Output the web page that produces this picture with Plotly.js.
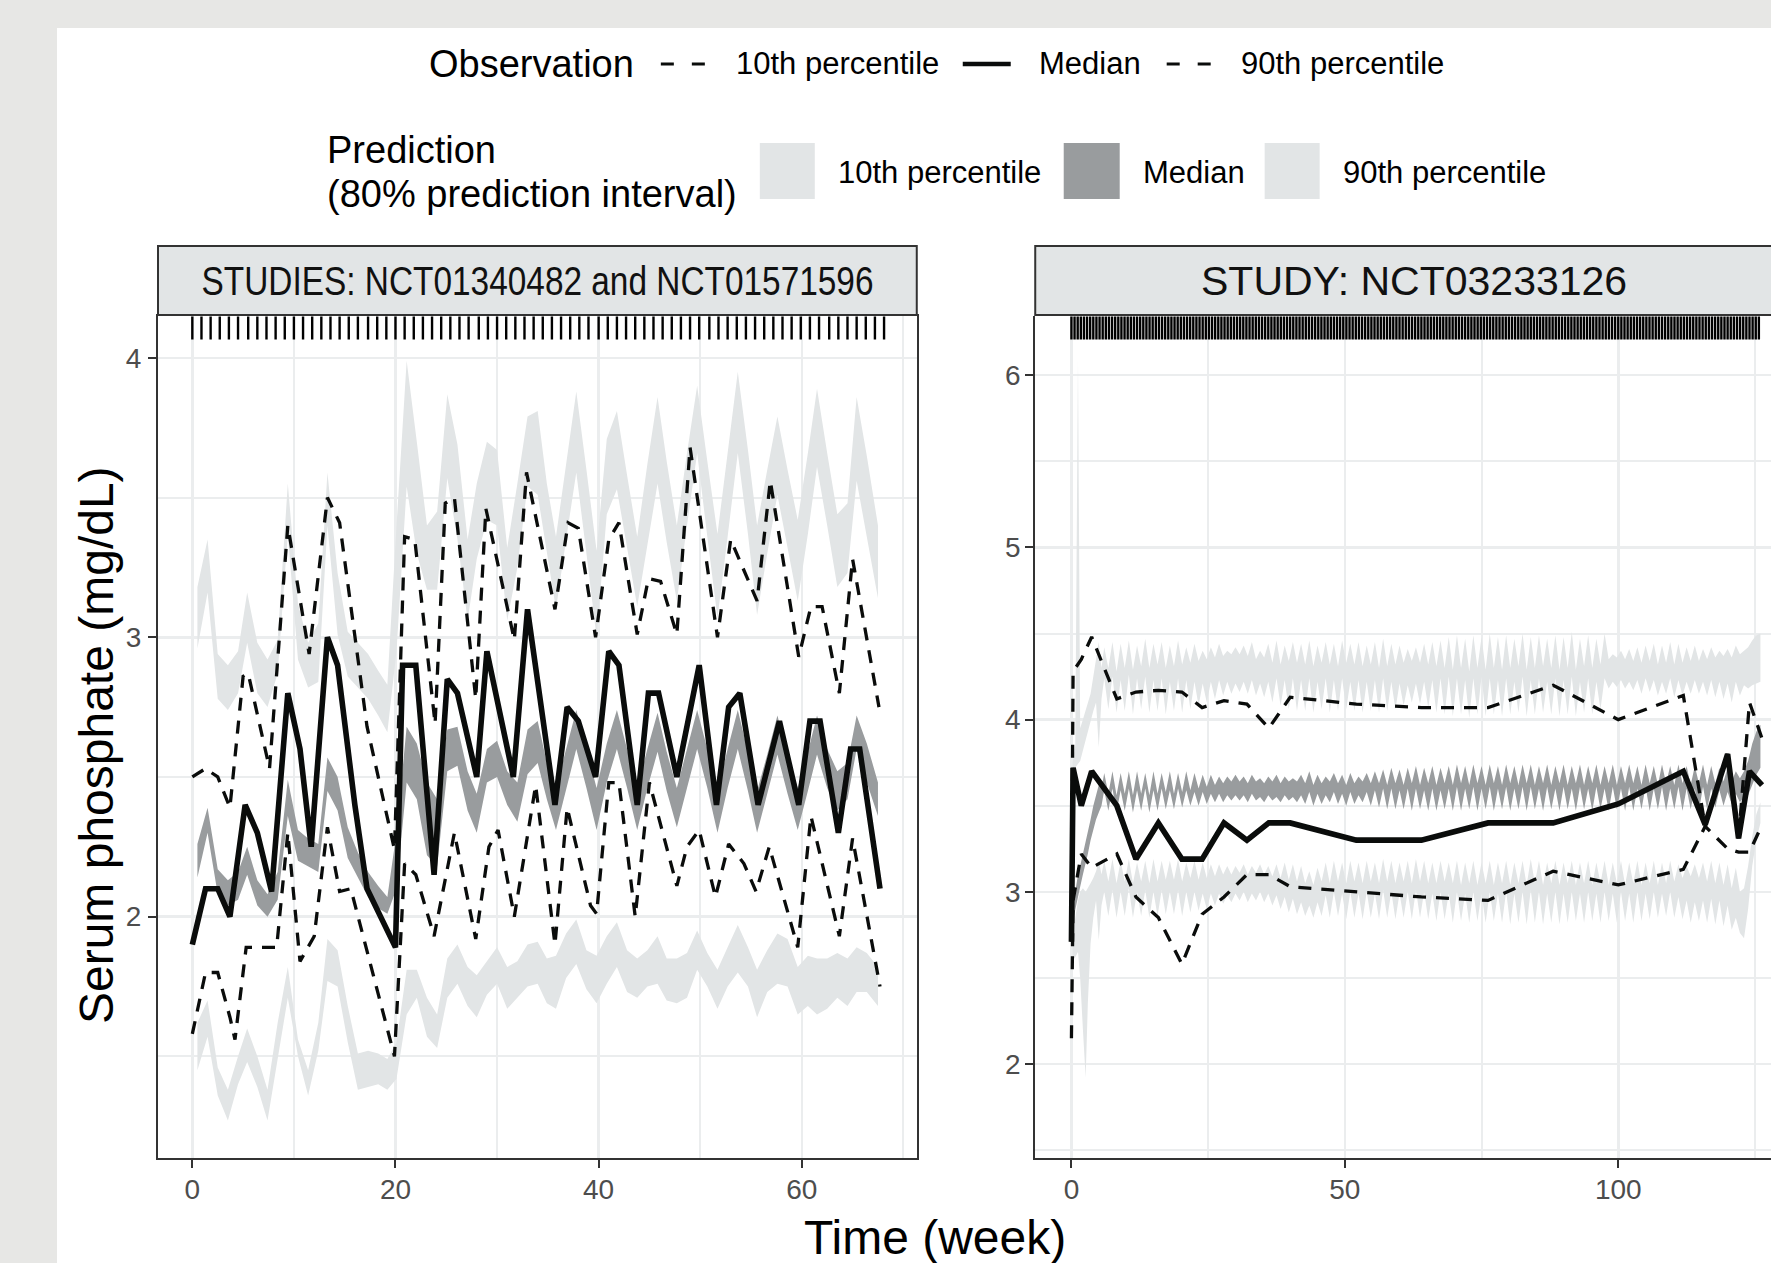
<!DOCTYPE html>
<html>
<head>
<meta charset="utf-8">
<script src="https://cdn.plot.ly/plotly-3.0.1.min.js"></script>
<style>
html,body{margin:0;padding:0;background:#e7e7e5;}
#wrap{position:absolute;left:0;top:0;width:1771px;height:1263px;overflow:hidden;}
#white{position:absolute;left:57px;top:28px;width:1714px;height:1235px;background:#ffffff;}
#plot{position:absolute;left:0;top:0;width:1800px;height:1263px;}
</style>
</head>
<body>
<div id="wrap"><div id="white"></div><div id="plot"></div></div>
<script>
// ---------------- LEFT PANEL: STUDIES NCT01340482 and NCT01571596 ----------------
const obsMedT_L = [0,1.3,2.5,3.7,5.2,6.4,7.8,9.4,10.6,11.7,13.3,14.3,16.0,17.2,20.0,20.7,22.0,23.8,25.1,26.1,28.0,29.0,31.6,33.0,35.7,36.9,38.0,39.7,41.0,42.0,43.8,44.9,45.9,47.7,49.9,51.6,52.8,53.9,55.7,57.8,59.7,60.8,61.8,63.6,64.8,65.7,67.7];
const obsMed_L  = [1.90,2.10,2.10,2.00,2.40,2.30,2.09,2.80,2.60,2.25,3.00,2.90,2.40,2.10,1.89,2.90,2.90,2.15,2.85,2.80,2.50,2.95,2.50,3.10,2.40,2.75,2.70,2.50,2.95,2.90,2.40,2.80,2.80,2.50,2.90,2.40,2.75,2.80,2.40,2.70,2.40,2.70,2.70,2.30,2.60,2.60,2.10];
const obsP90T_L = [0,1.3,2.5,3.7,5.0,5.5,7.6,9.4,11.5,13.3,14.5,16.0,17.2,19.9,20.9,21.9,23.9,24.9,25.8,27.9,28.9,31.7,32.9,35.7,37.0,38.0,39.7,41.0,42.0,43.8,44.9,46.1,47.7,49.0,51.7,53.0,55.6,56.9,59.7,60.9,62.0,63.7,65.0,67.6];
const obsP90_L  = [2.50,2.53,2.50,2.39,2.86,2.87,2.53,3.40,2.94,3.50,3.41,3.00,2.68,2.24,3.36,3.35,2.69,3.48,3.50,2.78,3.46,2.99,3.59,3.10,3.41,3.39,3.00,3.35,3.41,3.01,3.21,3.20,3.01,3.68,3.00,3.35,3.13,3.56,2.93,3.11,3.11,2.80,3.28,2.75];
const obsP10T_L = [0,1.3,2.5,3.7,4.2,5.3,8.3,9.4,10.6,12.0,13.3,14.5,15.6,19.9,20.9,22.0,23.8,25.8,27.9,29.2,30.1,31.7,33.8,35.7,36.9,39.2,39.8,41.0,42.0,43.6,45.0,47.7,48.7,49.9,51.5,52.8,54.3,55.5,56.8,59.6,60.9,63.7,65.0,67.7];
const obsP10_L  = [1.58,1.80,1.80,1.64,1.56,1.89,1.89,2.30,1.84,1.93,2.32,2.09,2.10,1.50,2.19,2.15,1.93,2.30,1.92,2.25,2.31,2.00,2.47,1.90,2.39,2.04,2.01,2.48,2.48,2.00,2.48,2.11,2.25,2.31,2.07,2.26,2.19,2.09,2.25,1.89,2.36,1.93,2.28,1.75];

const predT_L = [0.5,1.5,2.5,3.5,4.5,5.4,6.4,7.4,8.4,9.4,10.4,11.4,12.4,13.3,14.3,15.3,16.3,17.3,18.3,19.2,20.1,21.1,22.1,23.1,24.1,25.1,26.1,27.1,28.0,29.0,30.0,31.0,32.0,33.0,34.0,34.9,35.8,36.8,37.8,38.8,39.8,40.8,41.8,42.8,43.8,44.8,45.8,46.7,47.7,48.7,49.7,50.7,51.7,52.7,53.7,54.7,55.6,56.6,57.6,58.6,59.6,60.6,61.5,62.5,63.5,64.5,65.4,66.4,67.5];
const pred90Hi_L = [3.18,3.35,2.94,2.90,2.95,3.16,2.98,2.92,2.99,3.55,3.12,2.98,3.05,3.59,3.23,3.02,2.98,2.94,2.88,2.83,3.40,3.99,3.70,3.40,3.45,3.87,3.69,3.35,3.55,3.70,3.67,3.32,3.55,3.79,3.81,3.55,3.36,3.62,3.88,3.60,3.31,3.71,3.81,3.58,3.36,3.62,3.86,3.63,3.40,3.66,3.90,3.63,3.37,3.66,3.95,3.67,3.40,3.60,3.79,3.60,3.42,3.66,3.89,3.66,3.44,3.48,3.86,3.65,3.40];
const pred90Lo_L = [2.96,3.16,2.78,2.74,2.80,2.98,2.80,2.75,2.87,3.37,2.92,2.82,2.84,3.40,3.01,2.86,2.82,2.78,2.72,2.66,2.95,3.54,3.30,3.17,3.17,3.57,3.35,3.06,3.28,3.42,3.40,3.06,3.25,3.54,3.51,3.30,3.10,3.35,3.59,3.30,3.00,3.44,3.53,3.32,3.11,3.33,3.55,3.34,3.13,3.40,3.66,3.36,3.07,3.36,3.66,3.37,3.08,3.30,3.51,3.32,3.13,3.37,3.61,3.40,3.18,3.23,3.56,3.36,3.14];
const predMedHi_L = [2.26,2.39,2.17,2.13,2.16,2.25,2.13,2.08,2.16,2.49,2.31,2.28,2.26,2.57,2.50,2.32,2.23,2.16,2.11,2.07,2.30,2.68,2.62,2.48,2.42,2.67,2.68,2.52,2.44,2.60,2.63,2.52,2.48,2.67,2.70,2.55,2.46,2.60,2.74,2.60,2.46,2.62,2.74,2.60,2.46,2.60,2.73,2.59,2.46,2.60,2.74,2.60,2.45,2.60,2.74,2.59,2.45,2.58,2.72,2.58,2.46,2.59,2.72,2.60,2.52,2.55,2.72,2.62,2.48];
const predMedLo_L = [2.14,2.30,2.08,2.04,2.06,2.15,2.04,2.00,2.06,2.36,2.20,2.18,2.16,2.45,2.38,2.21,2.14,2.07,2.03,2.01,2.10,2.48,2.42,2.22,2.18,2.52,2.54,2.38,2.30,2.48,2.50,2.40,2.34,2.51,2.55,2.42,2.31,2.46,2.60,2.46,2.31,2.48,2.60,2.46,2.31,2.46,2.59,2.45,2.32,2.46,2.60,2.46,2.30,2.46,2.60,2.45,2.30,2.44,2.58,2.44,2.31,2.45,2.58,2.46,2.38,2.42,2.60,2.48,2.36];
const pred10Hi_L = [1.62,1.70,1.46,1.38,1.50,1.60,1.50,1.38,1.62,1.82,1.56,1.45,1.62,1.92,1.88,1.68,1.51,1.52,1.51,1.49,1.55,1.81,1.81,1.71,1.65,1.85,1.90,1.82,1.79,1.84,1.89,1.82,1.84,1.90,1.91,1.85,1.86,1.94,1.99,1.88,1.86,1.93,1.98,1.88,1.85,1.88,1.93,1.85,1.85,1.87,1.95,1.87,1.81,1.89,1.97,1.89,1.81,1.88,1.94,1.92,1.82,1.86,1.85,1.85,1.87,1.85,1.89,1.87,1.82];
const pred10Lo_L = [1.45,1.57,1.36,1.27,1.40,1.48,1.39,1.27,1.49,1.71,1.50,1.36,1.52,1.77,1.75,1.55,1.38,1.39,1.40,1.38,1.42,1.65,1.71,1.57,1.53,1.71,1.76,1.68,1.64,1.72,1.76,1.67,1.71,1.75,1.76,1.69,1.67,1.78,1.83,1.74,1.69,1.76,1.82,1.73,1.71,1.75,1.76,1.70,1.69,1.71,1.81,1.75,1.67,1.75,1.80,1.75,1.64,1.73,1.76,1.75,1.65,1.68,1.65,1.67,1.71,1.68,1.73,1.73,1.68];

const rugT_L = [0,0.9,1.8,2.7,3.6,4.5,5.5,6.4,7.3,8.2,9.1,10.0,10.9,11.8,12.7,13.6,14.5,15.4,16.3,17.3,18.2,19.1,20.0,20.9,21.8,22.7,23.6,24.5,25.4,26.3,27.2,28.2,29.1,30.0,30.9,31.8,32.7,33.6,34.5,35.4,36.3,37.2,38.1,39.0,40.0,40.9,41.8,42.7,43.6,44.5,45.4,46.3,47.2,48.1,49.0,49.9,50.9,51.8,52.7,53.6,54.5,55.4,56.3,57.2,58.1,59.0,59.9,60.8,61.7,62.7,63.6,64.5,65.4,66.3,67.2,68.1];

// ---------------- RIGHT PANEL: STUDY NCT03233126 ----------------
const obsT_R   = [0,0.3,1.8,3.7,8.3,11.8,15.9,20.2,23.9,27.9,32.1,36.1,40.0,52.1,64.0,76.2,88.1,100.0,111.9,115.9,120.0,122.0,124.0,126.3];
const obsMed_R = [2.71,3.72,3.50,3.70,3.50,3.19,3.40,3.19,3.19,3.40,3.30,3.40,3.40,3.30,3.30,3.40,3.40,3.51,3.70,3.39,3.80,3.31,3.70,3.62];
const obsP90_R = [2.71,4.28,4.35,4.48,4.12,4.16,4.17,4.16,4.07,4.11,4.09,3.95,4.13,4.09,4.07,4.07,4.20,4.00,4.14,3.38,3.80,3.31,4.10,3.89];
const obsP10_R = [2.15,2.95,3.22,3.14,3.22,2.97,2.85,2.58,2.87,2.97,3.10,3.10,3.03,3.00,2.97,2.95,3.12,3.04,3.13,3.38,3.25,3.23,3.23,3.39];

const predT_R = [0.2,0.7,1.2,1.6,2.1,2.6,3.0,3.5,4.0,4.5,5.0,5.5,
6,6.75,7.5,8.25,9,9.75,10.5,11.25,12,12.75,13.5,14.25,15,15.75,16.5,17.25,
18,18.75,19.5,20.25,21,21.75,22.5,23.25,24,24.75,25.5,26.25,27,27.75,28.5,29.25,
30,30.75,31.5,32.25,33,33.75,34.5,35.25,36,36.75,37.5,38.25,39,39.75,40.5,41.25,
42,42.75,43.5,44.25,45,45.75,46.5,47.25,48,48.75,49.5,50.25,51,51.75,52.5,53.25,
54,54.75,55.5,56.25,57,57.75,58.5,59.25,60,60.75,61.5,62.25,63,63.75,64.5,65.25,
66,66.75,67.5,68.25,69,69.75,70.5,71.25,72,72.75,73.5,74.25,75,75.75,76.5,77.25,
78,78.75,79.5,80.25,81,81.75,82.5,83.25,84,84.75,85.5,86.25,87,87.75,88.5,89.25,
90,90.75,91.5,92.25,93,93.75,94.5,95.25,96,96.75,97.5,98.25,99,99.75,100.5,101.25,
102,102.75,103.5,104.25,105,105.75,106.5,107.25,108,108.75,109.5,110.25,111,111.75,112.5,113.25,
114,114.75,115.5,116.25,117,117.75,118.5,119.25,120,120.75,121.5,122.25,123,123.75,124.5,125.25,
126];
const pred90Hi_R = [3.75,3.85,6.10,3.95,4.00,4.05,4.10,4.15,4.25,4.35,4.45,4.30,
4.42,4.30,4.45,4.28,4.44,4.30,4.46,4.29,4.43,4.31,4.47,4.30,4.44,4.32,4.45,4.30,
4.43,4.31,4.46,4.32,4.42,4.33,4.44,4.34,4.40,4.35,4.42,4.36,4.44,4.37,4.40,4.38,
4.42,4.38,4.43,4.37,4.45,4.35,4.40,4.36,4.44,4.33,4.46,4.32,4.43,4.34,4.45,4.33,
4.44,4.32,4.46,4.31,4.43,4.33,4.45,4.32,4.44,4.31,4.46,4.33,4.44,4.32,4.45,4.31,
4.43,4.32,4.45,4.30,4.47,4.31,4.44,4.32,4.43,4.33,4.41,4.34,4.42,4.33,4.44,4.32,
4.45,4.31,4.46,4.30,4.48,4.29,4.49,4.30,4.47,4.28,4.49,4.30,4.48,4.29,4.50,4.30,
4.48,4.29,4.49,4.30,4.47,4.31,4.50,4.29,4.48,4.30,4.49,4.31,4.47,4.30,4.49,4.29,
4.48,4.30,4.51,4.29,4.47,4.31,4.49,4.30,4.47,4.32,4.50,4.35,4.38,4.36,4.40,4.35,
4.41,4.34,4.42,4.33,4.43,4.34,4.44,4.32,4.43,4.33,4.45,4.32,4.44,4.33,4.42,4.34,
4.43,4.34,4.41,4.35,4.42,4.36,4.40,4.37,4.41,4.36,4.43,4.38,4.40,4.42,4.46,4.49,
4.50];
const pred90Lo_R = [3.70,3.72,3.74,3.76,3.82,3.88,3.94,4.00,4.05,4.10,3.84,4.12,
4.24,4.06,4.25,4.04,4.23,4.05,4.26,4.03,4.24,4.06,4.25,4.04,4.23,4.05,4.24,4.03,
4.22,4.05,4.24,4.04,4.23,4.06,4.22,4.08,4.21,4.10,4.22,4.12,4.23,4.14,4.22,4.15,
4.21,4.16,4.22,4.15,4.23,4.14,4.21,4.13,4.22,4.10,4.24,4.08,4.23,4.06,4.24,4.05,
4.23,4.05,4.24,4.04,4.22,4.06,4.24,4.04,4.23,4.05,4.24,4.06,4.22,4.05,4.23,4.04,
4.22,4.05,4.23,4.04,4.24,4.05,4.22,4.06,4.21,4.08,4.20,4.10,4.21,4.09,4.22,4.07,
4.23,4.04,4.24,4.03,4.25,4.02,4.24,4.03,4.23,4.01,4.24,4.03,4.25,4.02,4.24,4.03,
4.23,4.02,4.24,4.03,4.22,4.04,4.25,4.02,4.23,4.03,4.24,4.04,4.22,4.03,4.24,4.02,
4.23,4.03,4.25,4.02,4.22,4.04,4.24,4.03,4.22,4.06,4.24,4.18,4.22,4.19,4.23,4.18,
4.22,4.17,4.23,4.15,4.24,4.16,4.23,4.14,4.22,4.15,4.24,4.13,4.23,4.14,4.22,4.15,
4.23,4.15,4.22,4.14,4.23,4.13,4.22,4.12,4.21,4.10,4.22,4.14,4.20,4.18,4.20,4.21,
4.22];
const predMedHi_R = [2.90,3.00,3.10,3.15,3.22,3.28,3.35,3.42,3.50,3.56,3.62,3.60,
3.69,3.57,3.70,3.56,3.69,3.57,3.70,3.56,3.70,3.57,3.69,3.56,3.70,3.57,3.69,3.58,
3.70,3.57,3.69,3.58,3.70,3.59,3.69,3.60,3.68,3.61,3.68,3.62,3.67,3.63,3.67,3.64,
3.68,3.64,3.67,3.63,3.68,3.64,3.66,3.63,3.67,3.64,3.68,3.63,3.67,3.64,3.66,3.64,
3.68,3.63,3.70,3.62,3.68,3.63,3.67,3.64,3.69,3.63,3.68,3.62,3.69,3.63,3.67,3.64,
3.69,3.63,3.70,3.63,3.71,3.62,3.72,3.63,3.71,3.62,3.72,3.63,3.73,3.62,3.72,3.63,
3.73,3.62,3.72,3.63,3.73,3.62,3.74,3.63,3.73,3.62,3.74,3.63,3.73,3.62,3.74,3.63,
3.73,3.62,3.74,3.63,3.73,3.62,3.74,3.63,3.74,3.62,3.73,3.63,3.74,3.62,3.73,3.63,
3.74,3.62,3.73,3.63,3.74,3.62,3.73,3.63,3.74,3.62,3.73,3.63,3.74,3.62,3.73,3.63,
3.74,3.63,3.73,3.62,3.74,3.63,3.73,3.62,3.74,3.63,3.73,3.62,3.74,3.63,3.73,3.62,
3.73,3.63,3.74,3.62,3.73,3.63,3.72,3.64,3.72,3.64,3.70,3.66,3.70,3.76,3.86,3.93,
3.97];
const predMedLo_R = [2.82,2.90,2.98,3.03,3.10,3.16,3.22,3.30,3.36,3.42,3.46,3.50,
3.59,3.47,3.60,3.46,3.59,3.47,3.60,3.46,3.59,3.47,3.60,3.46,3.59,3.47,3.60,3.48,
3.59,3.48,3.60,3.49,3.59,3.50,3.58,3.50,3.58,3.51,3.57,3.52,3.57,3.52,3.56,3.53,
3.56,3.53,3.56,3.52,3.57,3.53,3.55,3.52,3.56,3.53,3.55,3.52,3.56,3.53,3.55,3.52,
3.56,3.51,3.58,3.50,3.57,3.51,3.56,3.52,3.58,3.51,3.57,3.50,3.58,3.51,3.56,3.52,
3.58,3.50,3.59,3.49,3.60,3.48,3.60,3.48,3.59,3.48,3.60,3.47,3.60,3.48,3.59,3.47,
3.60,3.47,3.59,3.48,3.60,3.47,3.61,3.47,3.60,3.48,3.61,3.47,3.60,3.48,3.61,3.47,
3.60,3.48,3.61,3.47,3.60,3.48,3.61,3.47,3.61,3.48,3.60,3.47,3.61,3.48,3.60,3.47,
3.61,3.48,3.60,3.47,3.61,3.48,3.60,3.47,3.61,3.48,3.60,3.47,3.61,3.48,3.60,3.47,
3.61,3.47,3.60,3.48,3.61,3.47,3.60,3.48,3.61,3.47,3.60,3.48,3.61,3.47,3.60,3.48,
3.60,3.47,3.61,3.48,3.60,3.49,3.59,3.50,3.58,3.51,3.57,3.52,3.55,3.56,3.62,3.68,
3.72];
const pred10Hi_R = [2.75,2.85,2.95,3.00,3.02,3.00,3.02,3.05,3.08,3.12,3.18,3.10,
3.18,3.06,3.19,3.05,3.18,3.06,3.19,3.05,3.17,3.06,3.18,3.05,3.19,3.06,3.18,3.07,
3.18,3.07,3.19,3.06,3.17,3.08,3.18,3.07,3.17,3.08,3.16,3.09,3.16,3.10,3.15,3.10,
3.15,3.11,3.16,3.10,3.15,3.11,3.16,3.10,3.15,3.09,3.16,3.08,3.17,3.07,3.16,3.06,
3.15,3.05,3.12,3.04,3.14,3.06,3.17,3.05,3.18,3.06,3.17,3.05,3.18,3.06,3.17,3.05,
3.18,3.06,3.17,3.05,3.19,3.06,3.18,3.05,3.17,3.06,3.18,3.05,3.19,3.06,3.18,3.05,
3.17,3.05,3.18,3.06,3.17,3.05,3.18,3.04,3.17,3.05,3.18,3.04,3.17,3.05,3.18,3.04,
3.17,3.05,3.18,3.04,3.17,3.05,3.18,3.04,3.19,3.05,3.18,3.04,3.17,3.05,3.18,3.04,
3.17,3.05,3.18,3.04,3.17,3.05,3.18,3.04,3.17,3.05,3.18,3.04,3.17,3.05,3.18,3.04,
3.17,3.05,3.18,3.04,3.17,3.05,3.18,3.04,3.17,3.05,3.18,3.06,3.16,3.08,3.15,3.09,
3.16,3.08,3.17,3.06,3.18,3.05,3.17,3.04,3.16,3.02,3.14,3.00,3.02,3.15,3.32,3.45,
3.52];
const pred10Lo_R = [2.60,2.62,2.65,2.50,2.20,1.92,2.35,2.70,2.85,2.95,2.72,2.92,
3.00,2.86,3.01,2.85,3.00,2.86,3.02,2.85,3.00,2.86,3.01,2.85,3.00,2.86,3.01,2.87,
3.00,2.87,3.01,2.86,3.00,2.88,3.00,2.89,2.99,2.90,2.99,2.92,2.99,2.93,2.98,2.94,
2.99,2.95,3.00,2.94,2.99,2.95,3.00,2.94,2.99,2.92,2.98,2.90,2.97,2.88,2.96,2.87,
2.94,2.86,2.92,2.85,2.94,2.86,2.98,2.85,3.00,2.86,2.99,2.84,3.00,2.85,2.99,2.84,
3.00,2.85,2.99,2.84,3.01,2.85,3.00,2.84,2.99,2.85,3.00,2.84,3.01,2.85,3.00,2.84,
2.99,2.83,3.00,2.84,2.99,2.82,3.00,2.83,2.99,2.82,3.00,2.83,2.99,2.82,3.00,2.83,
2.99,2.82,3.00,2.81,2.99,2.82,3.00,2.81,3.01,2.82,3.00,2.81,2.99,2.82,3.00,2.81,
2.99,2.82,3.00,2.83,2.99,2.82,3.00,2.83,2.99,2.82,3.00,2.83,2.99,2.82,3.00,2.83,
2.99,2.82,3.00,2.83,2.99,2.84,3.00,2.85,2.99,2.86,3.00,2.85,2.97,2.84,2.95,2.82,
2.94,2.83,2.95,2.82,2.96,2.81,2.95,2.80,2.92,2.78,2.85,2.76,2.73,2.90,3.15,3.30,
3.40];

const rugDays_R = [0,4,8,12,16,20,24,28,32,36,40,44,48,52,56,60,64,68,72,76,80,84,88,92,96,100,104,108,112,116,120,124,128,132,136,140,144,148,152,156,160,164,168,172,176,180,184,188,192,196,200,204,208,212,216,220,224,228,232,236,240,244,248,252,256,260,264,268,272,276,280,284,288,292,296,300,304,308,312,316,320,324,328,332,336,340,344,348,352,356,360,364,368,372,376,380,384,388,392,396,400,404,408,412,416,420,424,428,432,436,440,444,448,452,456,460,464,468,472,476,480,484,488,492,496,500,504,508,512,516,520,524,528,532,536,540,544,548,552,556,560,564,568,572,576,580,584,588,592,596,600,604,608,612,616,620,624,628,632,636,640,644,648,652,656,660,664,668,672,676,680,684,688,692,696,700,704,708,712,716,720,724,728,732,736,740,744,748,752,756,760,764,768,772,776,780,784,788,792,796,800,804,808,812,816,820,824,828,832,836,840,844,848,852,856,860,864,868,872,876,880];

// ---------------- texts ----------------
const stripLabels = ["STUDIES: NCT01340482 and NCT01571596", "STUDY: NCT03233126"];
const xTicksL = [0,20,40,60], yTicksL = [2,3,4];
const xTicksR = [0,50,100], yTicksR = [2,3,4,5,6];
const xTitle = "Time (week)", yTitle = "Serum phosphate (mg/dL)";
const obsLegendTitle = "Observation";
const predLegendTitle = ["Prediction", "(80% prediction interval)"];
const pctLabels = ["10th percentile", "Median", "90th percentile"];

// ---------------- styling ----------------
const LIGHT = '#e2e5e6', DARK = '#999c9e', GRID = '#ebedee', AX = '#333333';
const FONT = 'Liberation Sans, Arial, Helvetica, sans-serif';
const W = 1800, H = 1263, ML = 158, MR = 5.5, MT = 316, MB = 105;
const PW = W - ML - MR, PH = H - MT - MB;
const P = x => (x - ML) / PW;
const Q = y => (H - MB - y) / PH;
const yRangeL = [1.136, 4.150], yRangeR = [1.454, 6.344];
const xRangeL = [-3.38, 71.32], xRangeR = [-6.62, 132.14];

function band(x, lo, hi, color, xa, ya) {
  return [
    {x: x, y: lo, xaxis: xa, yaxis: ya, mode: 'lines', line: {width: 0, color: color}, hoverinfo: 'skip'},
    {x: x, y: hi, xaxis: xa, yaxis: ya, mode: 'lines', line: {width: 0, color: color}, fill: 'tonexty', fillcolor: color, hoverinfo: 'skip'}
  ];
}
function obsLine(x, y, xa, ya, solid) {
  return {x: x, y: y, xaxis: xa, yaxis: ya, mode: 'lines', hoverinfo: 'skip',
    line: solid ? {color: '#0a0c0b', width: 5.6, dash: 'solid'} : {color: '#0a0c0b', width: 3.3, dash: '13px,10px'}};
}
function rug(x, xa, ya, yr) {
  const yy = yr[1] - 12 / PH * (yr[1] - yr[0]);
  return {x: x, y: x.map(() => yy), xaxis: xa, yaxis: ya, mode: 'markers', hoverinfo: 'skip',
    marker: {symbol: 'line-ns-open', size: 16.5, color: '#000', line: {width: 2.4, color: '#000'}}};
}

let traces = [];
traces = traces.concat(band(predT_L, pred10Lo_L, pred10Hi_L, LIGHT, 'x', 'y'));
traces = traces.concat(band(predT_L, predMedLo_L, predMedHi_L, DARK, 'x', 'y'));
traces = traces.concat(band(predT_L, pred90Lo_L, pred90Hi_L, LIGHT, 'x', 'y'));
traces.push(obsLine(obsP10T_L, obsP10_L, 'x', 'y', false));
traces.push(obsLine(obsP90T_L, obsP90_L, 'x', 'y', false));
traces.push(obsLine(obsMedT_L, obsMed_L, 'x', 'y', true));
traces.push(rug(rugT_L, 'x', 'y', yRangeL));

traces = traces.concat(band(predT_R, pred10Lo_R, pred10Hi_R, LIGHT, 'x2', 'y2'));
traces = traces.concat(band(predT_R, predMedLo_R, predMedHi_R, DARK, 'x2', 'y2'));
traces = traces.concat(band(predT_R, pred90Lo_R, pred90Hi_R, LIGHT, 'x2', 'y2'));
traces.push(obsLine(obsT_R, obsP10_R, 'x2', 'y2', false));
traces.push(obsLine(obsT_R, obsP90_R, 'x2', 'y2', false));
traces.push(obsLine(obsT_R, obsMed_R, 'x2', 'y2', true));
traces.push(rug(rugDays_R.map(d => d / 7), 'x2', 'y2', yRangeR));

const axBase = {
  ticks: 'outside', ticklen: 8, tickwidth: 2, tickcolor: AX,
  showgrid: true, gridcolor: GRID, gridwidth: 2.5, zeroline: false,
  showline: true, linecolor: AX, linewidth: 2,
  tickfont: {family: FONT, size: 28, color: '#4d4d4d'}
};

const layout = {
  width: W, height: H,
  margin: {l: ML, r: MR, t: MT, b: MB, pad: 0},
  paper_bgcolor: 'rgba(0,0,0,0)', plot_bgcolor: '#ffffff',
  showlegend: false,
  font: {family: FONT, color: '#000'},
  xaxis: Object.assign({}, axBase, {domain: [0, 759 / PW], range: xRangeL, tickmode: 'array', tickvals: xTicksL,
    minor: {tick0: 0, dtick: 10, showgrid: true, gridcolor: GRID, gridwidth: 2}, mirror: true, anchor: 'y', ticklabelstandoff: -3}),
  yaxis: Object.assign({}, axBase, {domain: [0, 1], range: yRangeL, tickmode: 'array', tickvals: yTicksL,
    minor: {tick0: 0, dtick: 0.5, showgrid: true, gridcolor: GRID, gridwidth: 2}, mirror: true, anchor: 'x', ticklabelstandoff: 1}),
  xaxis2: Object.assign({}, axBase, {domain: [(1035.5 - ML) / PW, 1], range: xRangeR, tickmode: 'array', tickvals: xTicksR,
    minor: {tick0: 0, dtick: 25, showgrid: true, gridcolor: GRID, gridwidth: 2}, mirror: false, anchor: 'y2', ticklabelstandoff: -3}),
  yaxis2: Object.assign({}, axBase, {domain: [0, 1], range: yRangeR, tickmode: 'array', tickvals: yTicksR,
    minor: {tick0: 0, dtick: 0.5, showgrid: true, gridcolor: GRID, gridwidth: 2}, mirror: false, anchor: 'x2', ticklabelstandoff: -1}),
  shapes: [],
  annotations: []
};

// strips
layout.shapes.push({type: 'rect', xref: 'paper', yref: 'paper', x0: P(158), x1: P(917), y0: Q(315), y1: Q(246),
  fillcolor: LIGHT, line: {color: AX, width: 2}, layer: 'above'});
layout.shapes.push({type: 'rect', xref: 'paper', yref: 'paper', x0: P(1035.5), x1: P(1794.5), y0: Q(315), y1: Q(246),
  fillcolor: LIGHT, line: {color: AX, width: 2}, layer: 'above'});
layout.annotations.push({xref: 'paper', yref: 'paper', x: P(537.5), y: Q(281), text: stripLabels[0], showarrow: false,
  xanchor: 'center', yanchor: 'middle', font: {family: FONT, size: 41, color: '#111'}});
layout.annotations.push({xref: 'paper', yref: 'paper', x: P(1414.5), y: Q(281), text: stripLabels[1], showarrow: false,
  xanchor: 'center', yanchor: 'middle', font: {family: FONT, size: 41, color: '#111'}});

// axis titles
layout.annotations.push({xref: 'paper', yref: 'paper', x: P(935), y: Q(1237), text: xTitle, showarrow: false,
  xanchor: 'center', yanchor: 'middle', font: {family: FONT, size: 48, color: '#000'}});
layout.annotations.push({xref: 'paper', yref: 'paper', x: P(96), y: Q(745), text: yTitle, showarrow: false, textangle: -90,
  xanchor: 'center', yanchor: 'middle', font: {family: FONT, size: 48, color: '#000'}});

// observation legend
const oy = 64;
layout.annotations.push({xref: 'paper', yref: 'paper', x: P(427), y: Q(oy), text: obsLegendTitle, showarrow: false,
  xanchor: 'left', yanchor: 'middle', font: {family: FONT, size: 38, color: '#000'}});
const obsKeys = [[661, 706, false, 734], [963, 1011, true, 1037], [1167, 1212, false, 1239]];
obsKeys.forEach((k, i) => {
  layout.shapes.push({type: 'line', xref: 'paper', yref: 'paper', x0: P(k[0]), x1: P(k[1]), y0: Q(oy), y1: Q(oy),
    line: {color: '#0a0c0b', width: k[2] ? 4.5 : 3, dash: k[2] ? 'solid' : '13px,18px'}});
  layout.annotations.push({xref: 'paper', yref: 'paper', x: P(k[3]), y: Q(oy), text: pctLabels[i], showarrow: false,
    xanchor: 'left', yanchor: 'middle', font: {family: FONT, size: 31, color: '#000'}});
});

// prediction legend
layout.annotations.push({xref: 'paper', yref: 'paper', x: P(325), y: Q(150), text: predLegendTitle[0], showarrow: false,
  xanchor: 'left', yanchor: 'middle', font: {family: FONT, size: 38, color: '#000'}});
layout.annotations.push({xref: 'paper', yref: 'paper', x: P(325), y: Q(194), text: predLegendTitle[1], showarrow: false,
  xanchor: 'left', yanchor: 'middle', font: {family: FONT, size: 38, color: '#000'}});
const predKeys = [[760, 815, LIGHT, 836], [1064, 1120, DARK, 1141], [1265, 1320, LIGHT, 1341]];
predKeys.forEach((k, i) => {
  layout.shapes.push({type: 'rect', xref: 'paper', yref: 'paper', x0: P(k[0]), x1: P(k[1]), y0: Q(199), y1: Q(143),
    fillcolor: k[2], line: {width: 0}});
  layout.annotations.push({xref: 'paper', yref: 'paper', x: P(k[3]), y: Q(172), text: pctLabels[i], showarrow: false,
    xanchor: 'left', yanchor: 'middle', font: {family: FONT, size: 31, color: '#000'}});
});

Plotly.newPlot('plot', traces, layout, {staticPlot: true, displayModeBar: false}).then(gd => {
  // the left facet label is set narrower (condensed) in the reference: compress its glyphs to fit the strip
  gd.querySelectorAll('text.annotation-text').forEach(t => {
    if (t.textContent === stripLabels[0]) {
      t.setAttribute('textLength', '672');
      t.setAttribute('lengthAdjust', 'spacingAndGlyphs');
    }
  });
});
</script>
</body>
</html>
